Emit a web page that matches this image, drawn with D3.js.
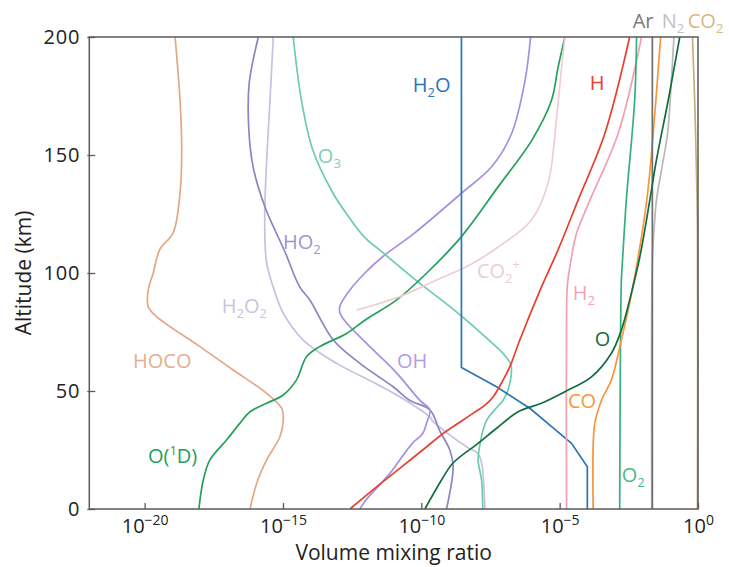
<!DOCTYPE html>
<html>
<head>
<meta charset="utf-8">
<script src="https://cdn.jsdelivr.net/npm/d3@7"></script>
<style>
  html, body { margin: 0; padding: 0; background: #fff; }
  svg { display: block; font-family: "Open Sans", "DejaVu Sans", sans-serif; }
</style>
</head>
<body>
<svg id="chart" width="729" height="567"></svg>
<script>
// Profiles: [altitude (km), log10 volume mixing ratio]
const CO2   = [[0,-0.02],[120,-0.02],[145,-0.06],[173,-0.12],[200,-0.2]];
const Ar    = [[0,-1.65],[200,-1.65]];
const N2    = [[0,-1.67],[105,-1.65],[120,-1.58],[131,-1.5],[145,-1.3],[159,-1.1],[180,-0.97],[200,-0.87]];
const O2    = [[0,-2.83],[97,-2.77],[103,-2.74],[131,-2.59],[173,-2.29],[200,-2.22]];
const CO    = [[0,-3.79],[26.4,-3.79],[36.3,-3.73],[46,-3.49],[54.7,-3.13],[71.6,-2.77],[91.4,-2.4],[131,-1.85],[159,-1.62],[200,-1.35]];
const O     = [[0,-9.87],[12.3,-9.27],[19.4,-8.86],[27.8,-7.95],[34,-7.3],[41.2,-6.5],[44.8,-5.66],[49.7,-4.81],[56,-3.85],[66,-3.13],[75.8,-2.77],[88.6,-2.47],[107,-2.1],[131,-1.74],[148,-1.5],[173,-1.08],[200,-0.66]];
const H2    = [[0,-4.75],[85,-4.75],[95,-4.72],[102.7,-4.63],[116.8,-4.39],[131,-3.9],[159,-2.89],[200,-2.04]];
const H     = [[0,-12.58],[10,-11.55],[17.2,-10.78],[25,-9.95],[32,-9.21],[40.5,-8.13],[44,-7.7],[47.6,-7.4],[54.7,-7.04],[60.3,-6.8],[71.6,-6.44],[94,-5.66],[110,-5.05],[131,-4.33],[159,-3.37],[200,-2.47]];
const CO2p  = [[84.3,-12.34],[90,-10.78],[97,-9.45],[103.4,-8.25],[111,-7.22],[122.5,-6.02],[138,-5.42],[166,-5.11],[187,-4.93],[200,-4.81]];
const H2O   = [[0,-4.0],[17.9,-4.0],[27.8,-4.57],[34.9,-5.29],[42.7,-6.08],[51.8,-7.28],[60,-8.55],[200,-8.55]];
const O3    = [[0,-7.78],[12,-7.82],[20.8,-7.95],[26,-7.9],[33,-7.78],[38,-7.62],[42,-7.35],[46,-7.05],[50,-6.88],[56,-6.76],[61,-6.76],[66,-7.05],[72,-7.6],[78.8,-8.25],[87,-9.1],[95.6,-10.05],[109.7,-11.5],[115,-12.04],[125,-12.7],[134,-13.2],[152,-13.92],[173,-14.33],[200,-14.63]];
const OH    = [[0,-12.22],[3.8,-12.0],[15,-11.14],[20.8,-10.78],[28,-10.31],[32,-9.95],[36.4,-9.81],[42,-9.69],[46,-10.05],[57.6,-10.89],[68.8,-11.86],[78.8,-12.7],[83,-12.94],[86,-12.94],[92.8,-12.58],[100,-12.04],[107,-11.39],[116.8,-10.26],[133.8,-8.55],[145,-7.46],[159,-6.74],[181,-6.26],[200,-6.05]];
const HO2   = [[0,-9.09],[18,-8.85],[25,-8.97],[33,-9.33],[42,-9.69],[46,-10.41],[51.8,-11.02],[61.7,-12.22],[71.6,-13.18],[88.6,-14.03],[94,-14.39],[109,-14.93],[128,-15.65],[145,-16.08],[162,-16.24],[180.5,-16.22],[200,-15.89]];
const H2O2  = [[0,-7.7],[15,-7.77],[20,-7.83],[23.6,-7.96],[26.4,-8.37],[37,-9.57],[39,-9.69],[47.6,-10.78],[53,-11.62],[61.7,-13.06],[71.6,-14.27],[83,-14.99],[95,-15.38],[105,-15.6],[124,-15.66],[145,-15.6],[173,-15.47],[200,-15.35]];
const O1D   = [[0,-18.04],[12.3,-17.88],[20.8,-17.64],[29.2,-17.04],[36.3,-16.56],[41.2,-16.19],[44.8,-15.59],[48.3,-14.99],[54.7,-14.51],[64.5,-14.15],[68.8,-13.67],[74.4,-12.7],[80,-12.04],[88.6,-10.89],[99.9,-9.81],[115.4,-8.55],[136.6,-7.22],[156,-6.02],[173,-5.3],[187,-5.06],[200,-4.81]];
const HOCO  = [[0,-16.19],[10.9,-15.95],[20.8,-15.59],[30.6,-15.11],[37.7,-14.99],[42.7,-15.05],[49,-15.59],[58.9,-16.8],[68.8,-18.0],[81.5,-19.57],[85.7,-19.87],[92.8,-19.87],[100,-19.69],[110,-19.45],[117,-18.97],[134,-18.72],[152,-18.66],[173,-18.72],[200,-18.9]];

// Axis ticks
const altTicks = [0, 50, 100, 150, 200];
const ratioExps = [-20, -15, -10, -5, 0];

// Series styling, drawn in this order
const series = [
  { data: HOCO, color: "#e3a884", curve: "smooth" },
  { data: H2O2, color: "#c6c1e0", curve: "smooth" },
  { data: HO2,  color: "#8c84c4", curve: "smooth" },
  { data: OH,   color: "#a68fe0", curve: "smooth" },
  { data: O3,   color: "#6ccbb0", curve: "smooth" },
  { data: O1D,  color: "#23a05a", curve: "smooth" },
  { data: CO2p, color: "#f0cdd6", curve: "smooth" },
  { data: H2O,  color: "#2a75b3", curve: "linear" },
  { data: H,    color: "#e8402f", curve: "smooth" },
  { data: H2,   color: "#f2a0b0", curve: "smooth" },
  { data: O2,   color: "#36b07a", curve: "smooth" },
  { data: CO,   color: "#f5973a", curve: "smooth" },
  { data: N2,   color: "#b8b8b8", curve: "smooth" },
  { data: Ar,   color: "#6e6e6e", curve: "linear" },
  { data: O,    color: "#0f6e3c", curve: "smooth" },
  { data: CO2,  color: "#c9ad7e", curve: "smooth" }
];

// Species labels: [log10 ratio, altitude], text parts {t, s: "sub"|"sup"}
const labels = [
  { at: [-10.31, 176.7], color: "#2a75b3", parts: [{t:"H"},{t:"2",s:"sub"},{t:"O"}] },
  { at: [-3.91, 177.5],  color: "#e8402f", parts: [{t:"H"}] },
  { at: [-2.36, 203.8],  color: "#7a7a7a", parts: [{t:"Ar"}] },
  { at: [-1.31, 203.8],  color: "#c2c2c2", parts: [{t:"N"},{t:"2",s:"sub"}] },
  { at: [-0.37, 203.8],  color: "#d8b886", parts: [{t:"CO"},{t:"2",s:"sub"}] },
  { at: [-13.74, 146.6], color: "#7dcfb5", parts: [{t:"O"},{t:"3",s:"sub"}] },
  { at: [-15.0, 110.2],  color: "#9d97cc", parts: [{t:"HO"},{t:"2",s:"sub"}] },
  { at: [-17.21, 83.0],  color: "#c9c4e2", parts: [{t:"H"},{t:"2",s:"sub"},{t:"O"},{t:"2",s:"sub"}] },
  { at: [-20.42, 59.7],  color: "#e6ad8e", parts: [{t:"HOCO"}] },
  { at: [-19.88, 19.5],  color: "#22a05a", parts: [{t:"O("},{t:"1",s:"sup"},{t:"D)"}] },
  { at: [-10.88, 59.7],  color: "#b39ce6", parts: [{t:"OH"}] },
  { at: [-7.99, 97.9],   color: "#f0cad3", parts: [{t:"CO"},{t:"2",s:"sub"},{t:"+",s:"supsub"}] },
  { at: [-4.53, 88.6],   color: "#f2a5b5", parts: [{t:"H"},{t:"2",s:"sub"}] },
  { at: [-3.73, 69.1],   color: "#0f6e3c", parts: [{t:"O"}] },
  { at: [-4.70, 42.8],   color: "#f5973a", parts: [{t:"CO"}] },
  { at: [-2.76, 11.4],   color: "#4cb886", parts: [{t:"O"},{t:"2",s:"sub"}] }
];

const svg = d3.select("#chart");
const margin = { left: 89.3, right: 31, top: 37, bottom: 58 };
const W = 729, H_ = 567;

const x = d3.scaleLog().domain([1e-22, 1]).range([margin.left, W - margin.right]);
const y = d3.scaleLinear().domain([0, 200]).range([H_ - margin.bottom, margin.top]);

const lineSmooth = d3.line()
  .x(d => x(Math.pow(10, d[1])))
  .y(d => y(d[0]))
  .curve(d3.curveCatmullRom.alpha(0.5));
const lineStraight = d3.line()
  .x(d => x(Math.pow(10, d[1])))
  .y(d => y(d[0]))
  .curve(d3.curveLinear);

const plot = svg.append("g");
plot.selectAll("path.profile")
  .data(series)
  .join("path")
  .attr("class", "profile")
  .attr("fill", "none")
  .attr("stroke", d => d.color)
  .attr("stroke-width", 1.7)
  .attr("stroke-linejoin", "round")
  .attr("d", d => (d.curve === "linear" ? lineStraight : lineSmooth)(d.data));

// Frame
svg.append("rect")
  .attr("x", x.range()[0]).attr("y", y.range()[1])
  .attr("width", x.range()[1] - x.range()[0])
  .attr("height", y.range()[0] - y.range()[1])
  .attr("fill", "none").attr("stroke", "#5a5a5a").attr("stroke-width", 1.5);

// Axes
const yAxis = d3.axisLeft(y).tickValues(altTicks).tickSizeInner(-6).tickSizeOuter(0).tickPadding(9);
const gy = svg.append("g").attr("transform", `translate(${x.range()[0]},0)`).call(yAxis);
gy.select(".domain").remove();
gy.selectAll(".tick line").attr("stroke", "#5a5a5a").attr("stroke-width", 1.3).attr("x1", -2);
gy.selectAll(".tick text").attr("font-size", 20).attr("fill", "#222").attr("letter-spacing", 0.8)
  .attr("font-family", "'Open Sans', sans-serif");

const xAxis = d3.axisBottom(x).tickValues(ratioExps.map(e => Math.pow(10, e))).tickSizeInner(-6).tickSizeOuter(0).tickFormat("");
const gx = svg.append("g").attr("transform", `translate(0,${y.range()[0]})`).call(xAxis);
gx.select(".domain").remove();
gx.selectAll(".tick line").attr("stroke", "#5a5a5a").attr("stroke-width", 1.3);
gx.selectAll(".tick").each(function (d, i) {
  const t = d3.select(this).append("text")
    .attr("y", 24).attr("text-anchor", "middle").attr("fill", "#222")
    .attr("font-size", 20).attr("font-family", "'Open Sans', sans-serif");
  t.append("tspan").text("10");
  t.append("tspan").attr("font-size", 14).attr("dy", -8).text(String(ratioExps[i]).replace("-", "\u2212"));
});

// Axis titles
svg.append("text")
  .attr("transform", `translate(31,${(y.range()[0] + y.range()[1]) / 2}) rotate(-90)`)
  .attr("text-anchor", "middle").attr("font-size", 21).attr("fill", "#222")
  .text("Altitude (km)");
svg.append("text")
  .attr("x", (x.range()[0] + x.range()[1]) / 2).attr("y", 560)
  .attr("text-anchor", "middle").attr("font-size", 21).attr("fill", "#222")
  .text("Volume mixing ratio");

// Species labels
labels.forEach(l => {
  const t = svg.append("text")
    .attr("x", x(Math.pow(10, l.at[0]))).attr("y", y(l.at[1]))
    .attr("fill", l.color).attr("font-size", 20);
  let shift = 0;
  l.parts.forEach(p => {
    let target = 0, size = 20;
    if (p.s === "sub") { target = 5; size = 13; }
    else if (p.s === "sup") { target = -8; size = 13; }
    else if (p.s === "supsub") { target = -9; size = 13; }
    t.append("tspan").attr("dy", target - shift).attr("font-size", size).text(p.t);
    shift = target;
  });
});
</script>
</body>
</html>
